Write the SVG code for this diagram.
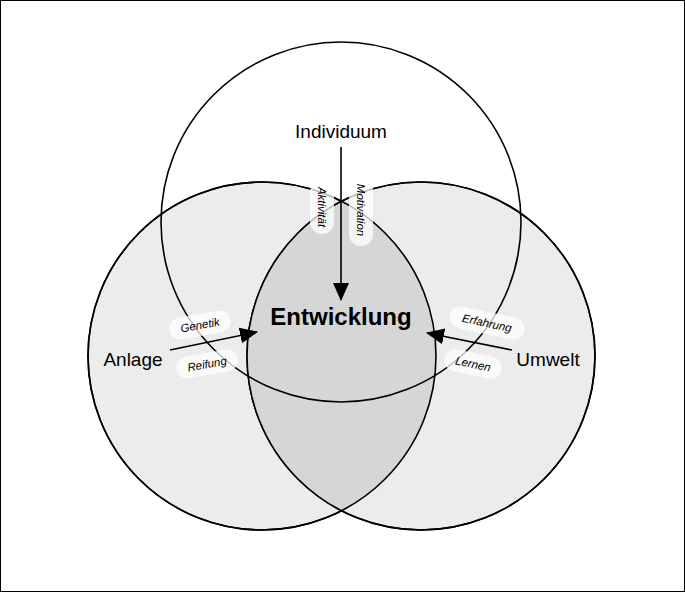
<svg xmlns="http://www.w3.org/2000/svg" width="685" height="592" viewBox="0 0 685 592">
<style>
.c{stroke:#000;stroke-width:1.6}
.t{font-family:"Liberation Sans",Arial,sans-serif;fill:#000}
.p{fill:#fff;fill-opacity:0.75}
.s{font-family:"Liberation Sans",Arial,sans-serif;font-size:11.5px;font-style:italic;text-anchor:middle;fill:#000}
</style>
<defs>
<marker id="m2" markerWidth="18" markerHeight="18" refX="17" refY="8" orient="auto" markerUnits="userSpaceOnUse" viewBox="0 0 18 16"><path d="M0,0 L18,8 L0,16 z" fill="#000"/></marker>
<clipPath id="cl"><circle cx="262" cy="356" r="174"/></clipPath>
</defs>
<rect x="0.5" y="0.5" width="684" height="591" fill="#fff" stroke="#000"/>
<g id="anlage"><circle class="c" cx="262" cy="356" r="174" fill="#ececec"/></g>
<g id="umwelt"><circle class="c" cx="421" cy="356" r="174" fill="#ececec"/></g>
<g id="lens"><circle cx="421" cy="356" r="174" fill="#d6d6d6" clip-path="url(#cl)"/>
<circle class="c" cx="262" cy="356" r="174" fill="none"/><circle class="c" cx="421" cy="356" r="174" fill="none"/></g>
<g id="individuum"><circle class="c" cx="341" cy="222" r="180" fill="none"/>
<text class="t" x="341" y="138" font-size="19" text-anchor="middle">Individuum</text></g>
<g id="labels">
<text class="t" x="133" y="366" font-size="19" text-anchor="middle">Anlage</text>
<text class="t" x="548" y="366" font-size="19" text-anchor="middle">Umwelt</text>
<text class="t" x="341" y="325" font-size="24" font-weight="bold" text-anchor="middle">Entwicklung</text>
</g>
<g id="connectors">
<line x1="341" y1="147" x2="341" y2="300" stroke="#000" stroke-width="1.6" marker-end="url(#m2)"/>
<line x1="170" y1="350" x2="257" y2="332" stroke="#000" stroke-width="1.6" marker-end="url(#m2)"/>
<line x1="512" y1="350" x2="427" y2="333" stroke="#000" stroke-width="1.6" marker-end="url(#m2)"/>
</g>
<g id="pills">
<g transform="translate(322,207) rotate(90)"><rect class="p" x="-27" y="-12" width="54" height="24" rx="12"/><text class="s" y="4">Aktivität</text></g>
<g transform="translate(361,210) rotate(90)"><rect class="p" x="-36" y="-12" width="72" height="24" rx="12"/><text class="s" y="4">Motivation</text></g>
<g transform="translate(200,325) rotate(-10)"><rect class="p" x="-31" y="-11" width="62" height="22" rx="11"/><text class="s" y="4">Genetik</text></g>
<g transform="translate(207,364) rotate(-10)"><rect class="p" x="-31" y="-11" width="62" height="22" rx="11"/><text class="s" y="4">Reifung</text></g>
<g transform="translate(487,323) rotate(12)"><rect class="p" x="-38" y="-11" width="76" height="22" rx="11"/><text class="s" y="4">Erfahrung</text></g>
<g transform="translate(473,364) rotate(12)"><rect class="p" x="-29" y="-11" width="58" height="22" rx="11"/><text class="s" y="4">Lernen</text></g>
</g>
</svg>
